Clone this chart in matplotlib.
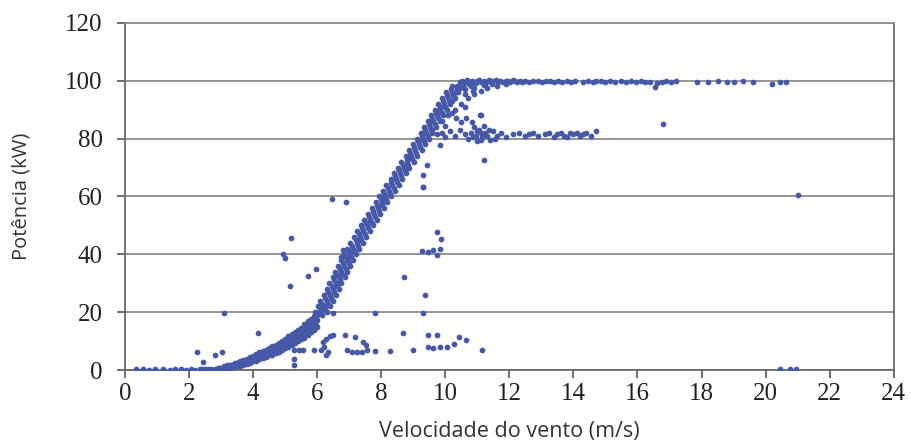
import numpy as np
import matplotlib.pyplot as plt

# ---- data (wind speed m/s, power kW) ----

# points sitting on zero at low wind speed
zero_x = [0.35, 0.55, 0.75, 0.95, 1.2, 1.4, 1.55, 1.75, 1.9, 2.05, 2.2, 2.35]
zero_y = [0.3, 0.3, 0.2, 0.3, 0.3, 0.2, 0.3, 0.3, 0.2, 0.3, 0.2, 0.3]

# lower part of the power curve (read along x)
low_x = [2.4, 2.5, 2.6, 2.7, 2.8, 2.9, 3.0, 3.1, 3.2, 3.3, 3.4, 3.5, 3.6,
         3.7, 3.8, 3.9, 4.0, 4.1, 4.2, 4.3, 4.4, 4.5, 4.6, 4.7, 4.8, 4.9,
         5.0, 5.1, 5.2, 5.3, 5.4, 5.5, 5.6, 5.7, 5.8, 5.9, 6.0]
low_lo = [0.0, 0.0, 0.0, 0.0, 0.0, 0.0, 0.2, 0.1, 0.4, 0.7, 1.0, 1.4, 1.4,
          1.8, 2.2, 2.6, 3.1, 3.2, 3.7, 4.1, 4.6, 5.1, 5.3, 5.8, 6.4, 7.0,
          7.6, 7.9, 8.6, 9.3, 10.1, 10.9, 11.2, 12.1, 13.0, 14.0, 15.0]
low_mid = [0.1, 0.1, 0.1, 0.2, 0.2, 0.3, 0.5, 0.7, 1.0, 1.3, 1.6, 2.0, 2.3,
           2.7, 3.1, 3.5, 4.0, 4.4, 4.9, 5.3, 5.8, 6.3, 6.8, 7.3, 7.9, 8.5,
           9.1, 9.8, 10.5, 11.2, 12.0, 12.8, 13.6, 14.5, 15.4, 16.4, 17.4]
low_hi = [0.4, 0.4, 0.4, 0.5, 0.5, 0.6, 0.8, 1.3, 1.6, 1.9, 2.2, 2.6, 3.2,
          3.6, 4.0, 4.4, 4.9, 5.6, 6.1, 6.5, 7.0, 7.5, 8.3, 8.8, 9.4, 10.0,
          10.6, 11.7, 12.4, 13.1, 13.9, 14.7, 16.0, 16.9, 17.8, 18.8, 19.8]

# in-between rows of the lower curve
low2_x = [2.95, 3.05, 3.15, 3.25, 3.35, 3.45, 3.55, 3.65, 3.75, 3.85, 3.95,
          4.05, 4.15, 4.25, 4.35, 4.45, 4.55, 4.65, 4.75, 4.85, 4.95, 5.05,
          5.15, 5.25, 5.35, 5.45, 5.55, 5.65, 5.75, 5.85, 5.95]
low2_a = [0.2, 0.3, 0.6, 0.9, 1.2, 1.5, 1.8, 2.1, 2.5, 2.9, 3.3, 3.7, 4.0,
          4.5, 4.9, 5.4, 5.8, 6.3, 6.8, 7.4, 8.0, 8.5, 9.1, 9.8, 10.5, 11.3,
          11.9, 12.8, 13.7, 14.6, 15.6]
low2_b = [0.6, 0.9, 1.2, 1.6, 1.9, 2.3, 2.7, 3.0, 3.4, 3.8, 4.3, 4.8, 5.3,
          5.7, 6.2, 6.8, 7.3, 7.8, 8.4, 9.0, 9.6, 10.3, 11.0, 11.8, 12.5,
          13.4, 14.3, 15.2, 16.1, 17.1, 18.2]

# steep part of the power curve (read along y)
steep_y = [20, 22, 24, 26, 28, 30, 32, 34, 36, 38, 40, 42, 44, 46, 48, 50,
           52, 54, 56, 58, 60, 62, 64, 66, 68, 70, 72, 74, 76, 78, 80, 82,
           84, 86, 88, 90, 92, 94, 96, 98]
steep_left = [5.94, 6.03, 6.10, 6.22, 6.30, 6.38, 6.49, 6.56, 6.66, 6.74,
              6.83, 6.94, 7.03, 7.16, 7.25, 7.37, 7.46, 7.60, 7.70, 7.83,
              7.93, 8.06, 8.16, 8.29, 8.39, 8.52, 8.63, 8.76, 8.87, 9.00,
              9.11, 9.23, 9.33, 9.45, 9.55, 9.67, 9.78, 9.90, 10.02, 10.20]
steep_mid = [6.12, 6.21, 6.30, 6.40, 6.49, 6.58, 6.67, 6.76, 6.84, 6.93,
             7.02, 7.12, 7.23, 7.34, 7.44, 7.55, 7.66, 7.78, 7.89, 8.01,
             8.12, 8.24, 8.35, 8.47, 8.58, 8.70, 8.82, 8.94, 9.06, 9.18,
             9.30, 9.41, 9.52, 9.63, 9.74, 9.85, 9.96, 10.08, 10.20, 10.37]
steep_right = [6.31, 6.39, 6.50, 6.58, 6.69, 6.76, 6.87, 6.94, 7.04, 7.11,
               7.22, 7.30, 7.43, 7.52, 7.64, 7.73, 7.86, 7.96, 8.09, 8.19,
               8.32, 8.42, 8.55, 8.65, 8.78, 8.88, 9.02, 9.12, 9.26, 9.36,
               9.50, 9.60, 9.72, 9.82, 9.93, 10.04, 10.14, 10.26, 10.38, 10.54]

# in-between rows of the steep curve
steep2_y = [19, 21, 23, 25, 27, 29, 31, 33, 35, 37, 39, 41, 43, 45, 47, 49,
            51, 53, 55, 57, 59, 61, 63, 65, 67, 69, 71, 73, 75, 77, 79, 81,
            83, 85, 87, 89, 91, 93, 95, 97]
steep2_a = [5.98, 6.08, 6.16, 6.26, 6.35, 6.45, 6.53, 6.63, 6.71, 6.80,
            6.89, 6.98, 7.09, 7.20, 7.30, 7.41, 7.52, 7.63, 7.75, 7.86,
            7.98, 8.09, 8.21, 8.32, 8.44, 8.55, 8.67, 8.79, 8.91, 9.03,
            9.15, 9.27, 9.38, 9.49, 9.60, 9.71, 9.82, 9.93, 10.05, 10.19]
steep2_b = [6.16, 6.26, 6.34, 6.44, 6.54, 6.63, 6.72, 6.81, 6.89, 6.98,
            7.07, 7.16, 7.27, 7.38, 7.48, 7.59, 7.70, 7.81, 7.93, 8.04,
            8.16, 8.27, 8.39, 8.50, 8.62, 8.73, 8.85, 8.97, 9.09, 9.21,
            9.33, 9.45, 9.56, 9.67, 9.78, 9.89, 10.00, 10.11, 10.23, 10.37]

# rated power plateau near 100 kW
plat_x = [10.45, 10.52, 10.6, 10.68, 10.75, 10.82, 10.9, 10.98, 11.05, 11.12,
          11.2, 11.28, 11.35, 11.42, 11.5, 11.58, 11.65, 11.72, 11.8, 11.88,
          11.95, 12.03, 12.1, 12.18, 12.25, 12.33, 12.4, 12.5, 12.6, 12.75,
          12.9, 13.02, 13.15, 13.27, 13.4, 13.52, 13.65, 13.8, 13.92, 14.05,
          14.3, 14.45, 14.6, 14.72, 14.85, 15.0, 15.15, 15.3, 15.5, 15.65,
          15.8, 15.95, 16.1, 16.25, 16.4, 16.55, 16.62, 16.75, 16.9, 17.05,
          17.2, 17.85, 18.2, 18.5, 18.8, 19.0, 19.3, 19.6, 20.2, 20.45, 20.65]
plat_y = [99.6, 99.9, 99.5, 100.1, 99.7, 100.0, 99.4, 99.9, 100.2, 99.6,
          99.9, 99.5, 100.1, 99.7, 99.9, 100.2, 99.6, 99.9, 99.5, 100.0,
          99.8, 99.6, 100.1, 99.8, 99.5, 100.0, 99.7, 99.9, 99.6, 99.9,
          99.8, 99.6, 99.9, 99.8, 99.6, 99.9, 99.7, 99.8, 99.6, 99.9,
          99.7, 99.9, 99.6, 99.8, 99.9, 99.7, 99.8, 99.6, 99.9, 99.7,
          99.8, 99.6, 99.9, 99.7, 99.5, 97.8, 99.2, 99.7, 99.9, 99.6,
          99.8, 99.7, 99.6, 99.8, 99.7, 99.5, 99.8, 99.6, 98.8, 99.7, 99.4]

# points between the curve and the plateau (turbine ramping to 100 kW)
ramp_x = [9.9, 10.1, 10.3, 10.5, 10.7, 10.9, 11.1, 11.3, 11.6, 11.9,
          10.0, 10.2, 10.4, 10.6, 10.8, 10.3, 10.6, 10.9, 11.2, 10.2,
          10.61, 11.13, 10.66, 10.5, 10.82, 11.08, 10.0, 10.35, 10.55, 10.75,
          10.95, 11.25, 10.45, 10.85, 11.45, 10.25]
ramp_y = [86.0, 88.0, 90.0, 92.0, 94.0, 95.5, 96.5, 97.5, 98.2, 98.8,
          91.0, 93.0, 96.0, 97.0, 98.0, 94.0, 95.5, 97.5, 98.5, 89.0,
          91.0, 88.1, 87.0, 85.8, 85.8, 88.0, 84.5, 87.0, 98.5, 99.0,
          99.2, 99.0, 97.5, 96.5, 98.8, 95.0]

# second plateau near 80 kW
p80_x = [9.6, 9.75, 9.9, 10.0, 10.15, 10.3, 10.45, 10.6, 10.7, 10.8,
         10.9, 10.95, 11.0, 11.05, 11.1, 11.15, 11.2, 11.25, 11.3, 11.4,
         11.5, 11.6, 11.75, 11.9, 12.1, 12.3, 12.5, 12.6, 12.75, 12.9,
         13.1, 13.25, 13.4, 13.5, 13.6, 13.7, 13.8, 13.9, 14.0, 14.1,
         14.2, 14.3, 14.4, 14.55, 14.7, 10.85, 11.0, 11.1, 11.35, 11.55]
p80_y = [83.0, 81.5, 82.0, 80.5, 82.5, 81.0, 83.0, 81.5, 80.0, 82.0,
         84.0, 81.0, 79.0, 83.0, 82.0, 80.5, 84.5, 82.0, 81.0, 79.5,
         82.5, 81.0, 82.0, 80.5, 81.5, 82.0, 81.0, 81.5, 82.0, 81.0,
         81.5, 82.0, 80.5, 81.5, 82.0, 81.0, 80.5, 82.0, 81.5, 82.0,
         81.0, 81.5, 82.0, 81.0, 82.5, 80.5, 82.5, 79.5, 83.0, 80.0]

# scattered outliers
out_x = [2.24, 2.44, 2.81, 3.02, 3.09, 4.16, 4.92, 5.01, 5.18, 5.15,
         5.28, 5.44, 5.57, 5.28, 5.28, 5.72, 5.96, 5.90, 6.13, 6.17,
         6.29, 6.40, 6.50, 6.20, 6.35, 6.28, 6.45, 6.90, 6.81, 6.73,
         6.50, 6.86, 7.17, 7.43, 7.53, 6.92, 7.08, 7.23, 7.39, 7.55,
         7.80, 7.80, 8.27, 8.67, 8.71, 9.00, 9.29, 9.29, 9.36, 9.26,
         9.47, 9.63, 9.82, 9.74, 9.87, 9.73, 9.47, 9.73, 9.47, 9.63,
         9.84, 10.05, 10.26, 10.42, 10.66, 11.16, 9.31, 9.31, 9.42, 9.83,
         11.20, 16.80, 21.00, 20.44, 20.75, 20.96]
out_y = [6.3, 2.9, 5.2, 6.3, 19.6, 12.9, 40.1, 38.9, 45.8, 29.1,
         6.9, 6.9, 6.9, 4.0, 1.7, 32.5, 35.1, 6.9, 6.9, 9.8,
         10.9, 11.7, 12.1, 8.1, 6.3, 5.2, 59.0, 58.2, 41.5, 39.0,
         19.6, 12.1, 11.5, 9.8, 8.6, 6.9, 6.3, 6.3, 6.3, 6.9,
         19.6, 6.6, 6.7, 12.9, 32.3, 7.1, 63.1, 19.6, 25.9, 41.2,
         40.9, 41.5, 42.0, 39.7, 45.2, 47.8, 12.1, 12.1, 8.1, 7.7,
         8.1, 8.1, 9.0, 11.3, 10.3, 6.9, 67.4, 63.3, 70.8, 77.7,
         72.6, 85.0, 60.5, 0.3, 0.5, 0.4]

x_ticks = list(range(0, 25, 2))
y_ticks = list(range(0, 121, 20))

# ---- plotting ----
dot_color = '#4659a8'
dot_size = 17

fig = plt.figure(figsize=(9.12, 4.47), dpi=100)
ax = fig.add_axes([0.137, 0.172, 0.843, 0.777])

ax.set_axisbelow(True)
ax.yaxis.grid(True, color='#8c8c8c', linewidth=1.3)

groups = [
    (zero_x, zero_y),
    (low_x, low_lo), (low_x, low_mid), (low_x, low_hi),
    (low2_x, low2_a), (low2_x, low2_b),
    (steep_left, steep_y), (steep_mid, steep_y), (steep_right, steep_y),
    (steep2_a, steep2_y), (steep2_b, steep2_y),
    (plat_x, plat_y), (ramp_x, ramp_y), (p80_x, p80_y), (out_x, out_y),
]
for gx, gy in groups:
    ax.scatter(gx, gy, s=dot_size, color=dot_color, linewidths=0, zorder=3)

ax.set_xlim(0, 24)
ax.set_ylim(0, 120)
ax.set_xticks(x_ticks)
ax.set_yticks(y_ticks)

for side in ['left', 'right', 'top', 'bottom']:
    ax.spines[side].set_color('#6a6a6a')
    ax.spines[side].set_linewidth(1.3)
ax.spines['top'].set_color('#8c8c8c')

ax.tick_params(axis='both', direction='out', length=6, width=1.2,
               color='#555555')
ax.tick_params(axis='x', pad=3)
ax.tick_params(axis='y', pad=10)
for lab in ax.get_xticklabels() + ax.get_yticklabels():
    lab.set_fontfamily('Liberation Serif')
    lab.set_fontsize(18)
    lab.set_color('#222222')

ax.set_xlabel('Velocidade do vento (m/s)', fontsize=15.5,
              fontfamily='Open Sans', color='#333333', labelpad=12)
ax.set_ylabel('Potência (kW)', fontsize=14.5,
              fontfamily='Open Sans', color='#333333', labelpad=24)

plt.savefig('out.png', dpi=100)
